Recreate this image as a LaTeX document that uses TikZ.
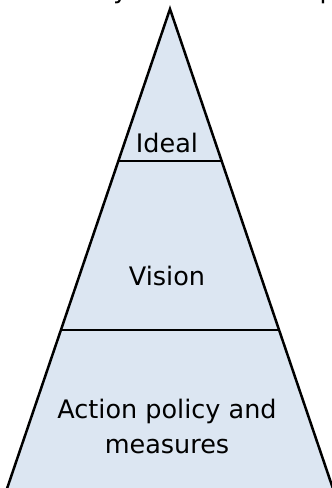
\documentclass[tikz,border=0pt]{standalone}
\usepackage{fontspec}
\setmainfont{DejaVu Sans}
\definecolor{pyrfill}{RGB}{220,230,242}
\tikzset{
  level/.style={font=\fontsize{25.5}{35}\selectfont, align=center},
  edge/.style={line width=2.5pt, line join=miter}
}
\begin{document}
\begin{tikzpicture}[x=1pt, y=-1pt]
\useasboundingbox (0,0) rectangle (332,488);
% pyramid body
\fill [pyrfill] (170,9) -- (4.5,496) -- (335.5,496) -- cycle;
\draw [edge] (4.5,496) -- (170,9) -- (335.5,496);
\draw [edge] (117.5,161) -- (222.5,161);
\draw [edge] (61,330) -- (279,330);
% labels
\node [level, anchor=base] (ideal) at (167,152) {Ideal};
\node [level, anchor=base] (vision) at (167,285) {Vision};
\node [level, anchor=base] (action) at (167,418) {Action policy and};
\node [level, anchor=base] (measures) at (167,453) {measures};
% cut-off text above
\node [level, anchor=base west, inner sep=0pt] (cuty) at (113,-2) {y};
\node [level, anchor=base west, inner sep=0pt] (cutp) at (319.5,-2) {p};
\end{tikzpicture}
\end{document}
